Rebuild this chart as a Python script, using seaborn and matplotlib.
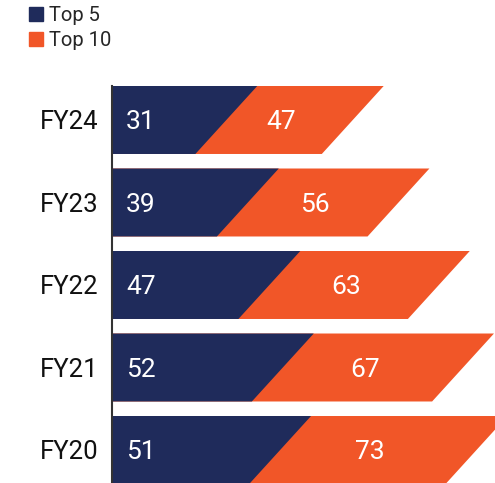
import matplotlib
matplotlib.use("Agg")
import matplotlib.pyplot as plt
import seaborn as sns
import pandas as pd
from matplotlib.patches import Polygon, Patch

years = ["FY24", "FY23", "FY22", "FY21", "FY20"]
top5 = [31, 39, 47, 52, 51]
top10 = [47, 56, 63, 67, 73]

navy = "#1F2B5B"
orange = "#F15628"
skew = 23      # lean of the bars' right edges, in value units
bar_w = 0.824

sns.set_theme(style="white")
plt.rcParams["font.family"] = ["Roboto", "DejaVu Sans"]

df = pd.DataFrame({"year": years, "top5": top5, "top10": top10})
df["total"] = df["top5"] + df["top10"]

fig = plt.figure(figsize=(4.95, 4.83), dpi=100)
ax = fig.add_axes([112 / 495, 0, 1 - 112 / 495, 397 / 483])

# orange = top 10 stacked after top 5, navy drawn on top
sns.barplot(data=df, x="total", y="year", color=orange, width=bar_w,
            saturation=1, ax=ax)
sns.barplot(data=df, x="top5", y="year", color=navy, width=bar_w,
            saturation=1, ax=ax)

# turn each bar into a parallelogram leaning right
for rect in list(ax.patches):
    x0, y0 = rect.get_x(), rect.get_y()
    w, h = rect.get_width(), rect.get_height()
    poly = Polygon([(x0, y0 + h), (x0 + w, y0 + h), (x0 + w + skew, y0), (x0, y0)],
                   closed=True, facecolor=rect.get_facecolor(), edgecolor="none",
                   zorder=rect.get_zorder())
    rect.remove()
    ax.add_patch(poly)

for i in range(len(years)):
    ax.text(5.2, i + 0.03, str(top5[i]), color="white", fontsize=19,
            va="center", ha="left")
    ax.text(top5[i] + (top10[i] + skew) / 2 - 3, i + 0.03, str(top10[i]),
            color="white", fontsize=19, va="center", ha="center")

ax.set_xlim(0, (495 - 112) / 2.69)
ax.set_ylim(4.4, -0.412)
ax.set_xlabel("")
ax.set_ylabel("")
ax.set_xticks([])
for s in ["top", "right", "bottom"]:
    ax.spines[s].set_visible(False)
ax.spines["left"].set_color("#333333")
ax.spines["left"].set_linewidth(1.5)
ax.tick_params(axis="y", length=0, pad=9.5, labelsize=18.5, labelcolor="#111111")

fig.legend(handles=[Patch(color=navy, label="Top 5"), Patch(color=orange, label="Top 10")],
           loc="upper left", bbox_to_anchor=(29 / 495, 1 - 6 / 483), frameon=False,
           fontsize=14.5, handlelength=0.68, handleheight=0.68, handletextpad=0.3,
           labelspacing=0.3, borderpad=0, borderaxespad=0)

fig.savefig("out.png", dpi=100)
